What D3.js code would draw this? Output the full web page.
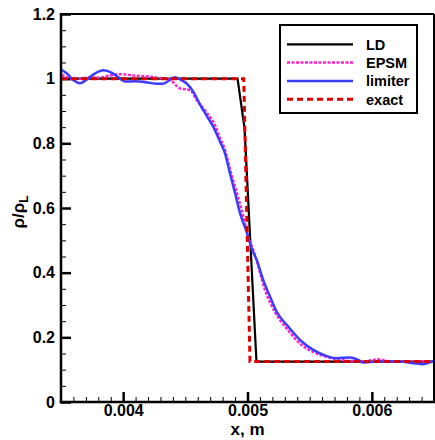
<!DOCTYPE html>
<html><head><meta charset="utf-8">
<script src="https://cdn.jsdelivr.net/npm/d3@7/dist/d3.min.js"></script>
<style>body{margin:0;background:#fff}svg{display:block}text{font-family:"Liberation Sans",Arial,sans-serif;font-weight:bold}</style>
</head><body><svg id="c" width="435" height="440"></svg>
<script>
const seriesNames = ["LD", "EPSM", "limiter", "exact"];
const ldX = [0.0035, 0.00492, 0.004976, 0.005072, 0.0065];
const ldY = [1, 1, 0.847, 0.125, 0.125];
const exactX = [0.0035, 0.00497, 0.00502, 0.0065];
const exactY = [1, 1, 0.125, 0.125];
const limiterX = [0.0035,0.00355,0.0036,0.003653,0.0037,0.003757,0.003842,0.00391,0.003975,0.004015,0.004095,0.0042,0.004272,0.00432,0.004361,0.004417,0.004457,0.004511,0.004564,0.004618,0.004672,0.004725,0.004779,0.004819,0.004859,0.0049,0.00494,0.004994,0.005034,0.005074,0.005127,0.005181,0.005235,0.005328,0.005436,0.005529,0.005637,0.005717,0.005824,0.005891,0.005931,0.005985,0.006066,0.006227,0.006334,0.006414,0.006468,0.0065];
const limiterY = [1.028,1.015,0.995,0.986,0.995,1.012,1.026,1.018,1.0,0.991,0.992,0.988,0.984,0.984,0.992,1.004,0.998,0.985,0.96,0.92,0.885,0.851,0.805,0.769,0.707,0.646,0.584,0.525,0.475,0.439,0.377,0.326,0.279,0.233,0.187,0.161,0.142,0.135,0.138,0.13,0.122,0.124,0.125,0.125,0.12,0.117,0.123,0.128];
const epsmX = [0.003506,0.00355,0.003599,0.003653,0.003733,0.003814,0.003894,0.003975,0.004079,0.004216,0.004296,0.004377,0.004457,0.004538,0.004591,0.004672,0.004739,0.004779,0.004819,0.004859,0.004908,0.004956,0.005004,0.00506,0.005141,0.005221,0.005326,0.005436,0.005543,0.005677,0.005824,0.005945,0.00605,0.006146,0.006307,0.0065];
const epsmY = [1.012,1.004,0.998,1.0,1.004,1.003,1.01,1.014,1.01,1.006,1.002,0.996,0.97,0.965,0.934,0.895,0.856,0.816,0.78,0.72,0.655,0.59,0.515,0.455,0.346,0.278,0.222,0.176,0.152,0.136,0.127,0.126,0.132,0.125,0.126,0.125];
const xTicks = [0.004, 0.005, 0.006];
const yTicks = [0, 0.2, 0.4, 0.6, 0.8, 1.0, 1.2];

const svg = d3.select("#c");
const L = 61, R = 434, T = 14, B = 402;
const x = d3.scaleLinear().domain([0.0035, 0.0065]).range([L, R]);
const y = d3.scaleLinear().domain([0, 1.2]).range([B, T]);

// minor ticks
const xMinor = d3.range(36, 65).map(i => i / 10000).filter(v => !xTicks.some(t => Math.abs(t - v) < 1e-9));
const yMinor = d3.range(1, 24).map(i => i * 0.05).filter(v => !yTicks.some(t => Math.abs(t - v) < 1e-9));

const gx = svg.append("g").attr("transform", `translate(0,${B})`);
gx.call(d3.axisBottom(x).tickValues(xMinor).tickSize(-5).tickFormat(""));
gx.selectAll("line").attr("stroke", "#000").attr("stroke-width", 1);
const gx2 = svg.append("g").attr("transform", `translate(0,${B})`);
gx2.call(d3.axisBottom(x).tickValues(xTicks).tickSize(-10).tickPadding(6).tickFormat(d => d.toFixed(3)));
gx2.selectAll("line").attr("stroke-width", 2.5);
gx2.selectAll("text").attr("font-size", 16).attr("fill", "#000").attr("dy", "0.5em");
svg.selectAll(".domain").remove();

const gy = svg.append("g").attr("transform", `translate(${L},0)`);
gy.call(d3.axisLeft(y).tickValues(yMinor).tickSize(-5).tickFormat(""));
gy.selectAll("line").attr("stroke-width", 1);
const gy2 = svg.append("g").attr("transform", `translate(${L},0)`);
gy2.call(d3.axisLeft(y).tickValues(yTicks).tickSize(-10).tickPadding(6).tickFormat(d => d === 0 ? "0" : String(+d.toFixed(1))));
gy2.selectAll("line").attr("stroke-width", 2.5);
gy2.selectAll("text").attr("font-size", 16).attr("fill", "#000");
svg.selectAll(".domain").remove();

// curves
svg.append("clipPath").attr("id", "clp").append("rect").attr("x", L).attr("y", T).attr("width", R - L).attr("height", B - T);
const line = d3.line().x(d => x(d[0])).y(d => y(d[1]));
const lineC = d3.line().x(d => x(d[0])).y(d => y(d[1])).curve(d3.curveMonotoneX);
const plot = svg.append("g").attr("clip-path", "url(#clp)");
const styles = [
  {color: "#000", w: 2.2, dash: null},
  {color: "#ff22cc", w: 2.5, dash: "3,1.5"},
  {color: "#3c3cff", w: 2.5, dash: null},
  {color: "#dd0000", w: 3, dash: "6,4"}
];
plot.append("path").attr("d", line(d3.zip(ldX, ldY))).attr("fill", "none").attr("stroke", styles[0].color).attr("stroke-width", styles[0].w);
plot.append("path").attr("d", lineC(d3.zip(epsmX, epsmY))).attr("fill", "none").attr("stroke", styles[1].color).attr("stroke-width", styles[1].w).attr("stroke-dasharray", styles[1].dash);
plot.append("path").attr("d", lineC(d3.zip(limiterX, limiterY))).attr("fill", "none").attr("stroke", styles[2].color).attr("stroke-width", styles[2].w);
plot.append("path").attr("d", line(d3.zip(exactX, exactY))).attr("fill", "none").attr("stroke", styles[3].color).attr("stroke-width", styles[3].w).attr("stroke-dasharray", styles[3].dash);

// frame
svg.append("line").attr("x1", L).attr("x2", R).attr("y1", T).attr("y2", T).attr("stroke", "#000").attr("stroke-width", 2);
svg.append("line").attr("x1", R).attr("x2", R).attr("y1", T).attr("y2", B).attr("stroke", "#000").attr("stroke-width", 2);
svg.append("line").attr("x1", L).attr("x2", L).attr("y1", T - 1).attr("y2", B + 1.25).attr("stroke", "#000").attr("stroke-width", 2.5);
svg.append("line").attr("x1", L - 1.25).attr("x2", R + 1).attr("y1", B).attr("y2", B).attr("stroke", "#000").attr("stroke-width", 2.5);

// legend
const lg = svg.append("g");
lg.append("rect").attr("x", 280).attr("y", 25).attr("width", 137).attr("height", 88).attr("fill", "#fff").attr("stroke", "#000").attr("stroke-width", 2);
styles.forEach((s, i) => {
  const yy = 44.3 + i * 18.3;
  lg.append("line").attr("x1", 287).attr("x2", 353).attr("y1", yy).attr("y2", yy).attr("stroke", s.color).attr("stroke-width", s.w).attr("stroke-dasharray", s.dash);
  lg.append("text").attr("x", 366).attr("y", yy + 5.3).attr("font-size", 14.5).text(seriesNames[i]);
});

// axis titles
svg.append("text").attr("x", (L + R) / 2).attr("y", 435).attr("text-anchor", "middle").attr("font-size", 17).text("x, m");
const yt = svg.append("text").attr("transform", `translate(24,${(T + B) / 2 + 4}) rotate(-90)`).attr("text-anchor", "middle").attr("font-size", 17).attr("font-weight", "normal");
yt.append("tspan").text("ρ/ρ");
yt.append("tspan").attr("font-size", 12).attr("dy", 4).text("L");
</script></body></html>
